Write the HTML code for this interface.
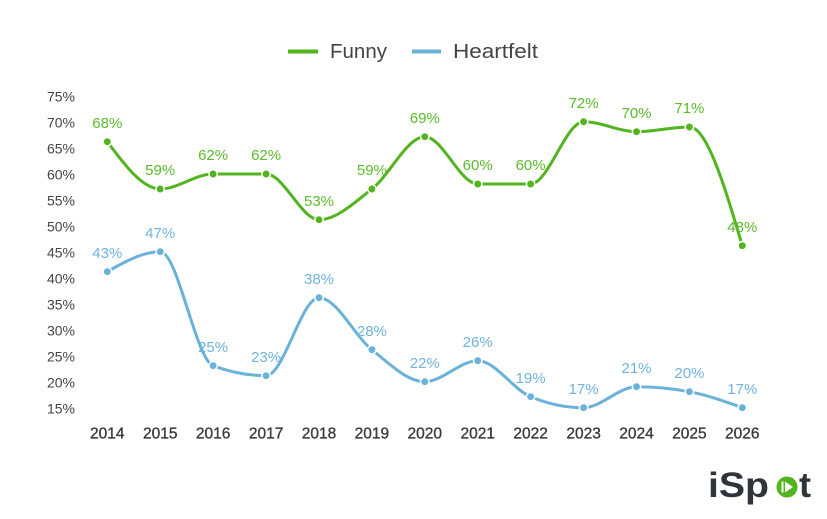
<!DOCTYPE html>
<html><head><meta charset="utf-8"><style>
html,body{margin:0;padding:0;background:#fff;}
svg{display:block;font-family:"Liberation Sans","DejaVu Sans",sans-serif;}
</style></head><body>
<svg id="c" width="827" height="519" viewBox="0 0 827 519" xmlns="http://www.w3.org/2000/svg">
<rect width="827" height="519" fill="#fff"/>
<!-- legend -->
<line x1="288" y1="51.5" x2="318" y2="51.5" stroke="#52b520" stroke-width="4"/>
<text x="330" y="58" font-size="20" fill="#444" textLength="57" lengthAdjust="spacingAndGlyphs">Funny</text>
<line x1="412" y1="51.5" x2="441" y2="51.5" stroke="#6ab2da" stroke-width="4"/>
<text x="453" y="58" font-size="20" fill="#444" textLength="85" lengthAdjust="spacingAndGlyphs">Heartfelt</text>
<!-- y axis -->
<g font-size="14" fill="#444" text-anchor="end">
<text x="75" y="101.5">75%</text>
<text x="75" y="127.5">70%</text>
<text x="75" y="153.5">65%</text>
<text x="75" y="179.5">60%</text>
<text x="75" y="205.5">55%</text>
<text x="75" y="231.5">50%</text>
<text x="75" y="257.5">45%</text>
<text x="75" y="283.5">40%</text>
<text x="75" y="309.5">35%</text>
<text x="75" y="335.5">30%</text>
<text x="75" y="361.5">25%</text>
<text x="75" y="387.5">20%</text>
<text x="75" y="413.5">15%</text>
</g>
<!-- x axis -->
<g font-size="15.5" fill="#3a3a3a" stroke="#3a3a3a" stroke-width="0.35" text-anchor="middle">
<text x="107.3" y="438.5">2014</text>
<text x="160.2" y="438.5">2015</text>
<text x="213.1" y="438.5">2016</text>
<text x="266.1" y="438.5">2017</text>
<text x="319" y="438.5">2018</text>
<text x="371.9" y="438.5">2019</text>
<text x="424.8" y="438.5">2020</text>
<text x="477.7" y="438.5">2021</text>
<text x="530.6" y="438.5">2022</text>
<text x="583.6" y="438.5">2023</text>
<text x="636.5" y="438.5">2024</text>
<text x="689.4" y="438.5">2025</text>
<text x="742.3" y="438.5">2026</text>
</g>
<path id="pf" fill="none" stroke="#52b520" stroke-width="3"/>
<path id="ph" fill="none" stroke="#6ab2da" stroke-width="3"/>
<g id="dots"></g>
<!-- Funny labels -->
<g font-size="15" fill="#5cba2c" text-anchor="middle">
<text x="107.3" y="128">68%</text>
<text x="160.2" y="175">59%</text>
<text x="213.1" y="160">62%</text>
<text x="266.1" y="160">62%</text>
<text x="319" y="206">53%</text>
<text x="371.9" y="175">59%</text>
<text x="424.8" y="123">69%</text>
<text x="477.7" y="170">60%</text>
<text x="530.6" y="170">60%</text>
<text x="583.6" y="108">72%</text>
<text x="636.5" y="118">70%</text>
<text x="689.4" y="113">71%</text>
<text x="742.3" y="232">48%</text>
</g>
<!-- Heartfelt labels -->
<g font-size="15" fill="#6fb4dc" text-anchor="middle">
<text x="107.3" y="258">43%</text>
<text x="160.2" y="238">47%</text>
<text x="213.1" y="352">25%</text>
<text x="266.1" y="362">23%</text>
<text x="319" y="284">38%</text>
<text x="371.9" y="336">28%</text>
<text x="424.8" y="368">22%</text>
<text x="477.7" y="347">26%</text>
<text x="530.6" y="383">19%</text>
<text x="583.6" y="394">17%</text>
<text x="636.5" y="373">21%</text>
<text x="689.4" y="378">20%</text>
<text x="742.3" y="394">17%</text>
</g>
<!-- logo -->
<g>
<text x="708" y="497" font-size="35" font-weight="bold" fill="#2e343a" textLength="61" lengthAdjust="spacingAndGlyphs">iSp</text>
<circle cx="787" cy="487" r="10.5" fill="#52b520"/>
<rect x="781.5" y="481.5" width="2" height="11" fill="#fff"/>
<polygon points="785,481.5 785,492.5 793,487" fill="#fff"/>
<text x="799" y="497" font-size="35" font-weight="bold" fill="#2e343a" textLength="12" lengthAdjust="spacingAndGlyphs">t</text>
</g>
</svg>
<script>
(function(){
var xs=[107.3,160.2,213.1,266.1,319,371.9,424.8,477.7,530.6,583.6,636.5,689.4,742.3];
var fy=[141.7,189,174,174,219.7,189,136.7,184,184,121.7,131.7,127,245.7];
var hy=[271.7,251.7,365.7,375.7,297.7,349.7,381.7,360.7,396.7,407.7,386.7,391.7,407.7];
function sign(v){return v<0?-1:1;}
function mono(x,y){
 var n=x.length,t=new Array(n);
 for(var i=1;i<n-1;i++){
  var h0=x[i]-x[i-1],h1=x[i+1]-x[i];
  var s0=(y[i]-y[i-1])/h0,s1=(y[i+1]-y[i])/h1;
  var p=(s0*h1+s1*h0)/(h0+h1);
  t[i]=(sign(s0)+sign(s1))*Math.min(Math.abs(s0),Math.abs(s1),0.5*Math.abs(p))||0;
 }
 t[0]=(3*(y[1]-y[0])/(x[1]-x[0])-t[1])/2;
 t[n-1]=(3*(y[n-1]-y[n-2])/(x[n-1]-x[n-2])-t[n-2])/2;
 var d="M"+x[0]+","+y[0];
 for(var i=0;i<n-1;i++){
  var dx=(x[i+1]-x[i])/3;
  d+="C"+(x[i]+dx)+","+(y[i]+dx*t[i])+","+(x[i+1]-dx)+","+(y[i+1]-dx*t[i+1])+","+x[i+1]+","+y[i+1];
 }
 return d;
}
document.getElementById('pf').setAttribute('d',mono(xs,fy));
document.getElementById('ph').setAttribute('d',mono(xs,hy));
var g=document.getElementById('dots'),ns="http://www.w3.org/2000/svg";
function dots(y,col){
 for(var i=0;i<xs.length;i++){
  var c=document.createElementNS(ns,'circle');
  c.setAttribute('cx',xs[i]);c.setAttribute('cy',y[i]);c.setAttribute('r',4.2);
  c.setAttribute('fill',col);c.setAttribute('stroke','#fff');c.setAttribute('stroke-width',1.5);
  g.appendChild(c);
 }
}
dots(fy,'#52b520');dots(hy,'#6ab2da');
})();
</script>
</body></html>
